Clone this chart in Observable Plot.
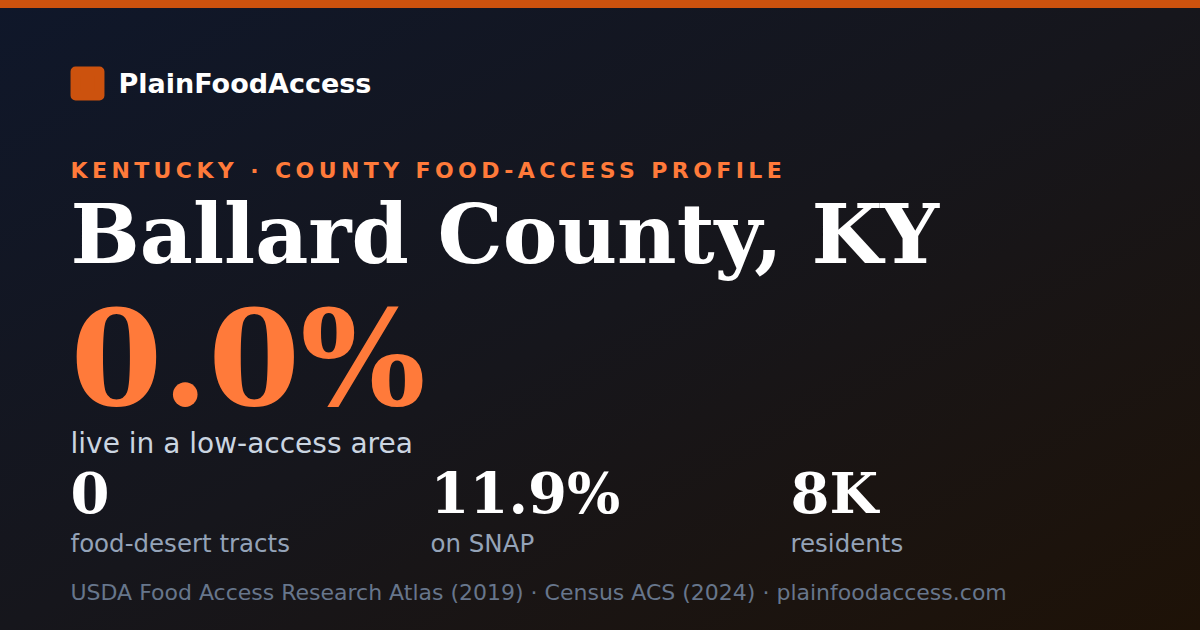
<!DOCTYPE html>
<html>
<head>
<meta charset="utf-8">
<script src="https://cdn.jsdelivr.net/npm/d3@7"></script>
<script src="https://cdn.jsdelivr.net/npm/@observablehq/plot@0.6"></script>
<style>
  body { margin: 0; background: #0f172a; }
</style>
</head>
<body>
<div id="chart"></div>
<script>
// Textos y cifras de la ficha
const brand = ["PlainFoodAccess"];
const kicker = ["KENTUCKY · COUNTY FOOD-ACCESS PROFILE"];
const county = ["Ballard County, KY"];
const headline = ["0.0%"];
const headlineLabel = ["live in a low-access area"];
const statValues = ["0", "11.9%", "8K"];
const statLabels = ["food-desert tracts", "on SNAP", "residents"];
const source = ["USDA Food Access Research Atlas (2019) · Census ACS (2024) · plainfoodaccess.com"];

// una columna por cifra
const stats = statValues.map((v, i) => ({col: i, value: v, label: statLabels[i]}));

const sans = "DejaVu Sans";
const serif = "DejaVu Serif";
const orange = "#ff7a3a";

const chart = Plot.plot({
  width: 1200,
  height: 630,
  marginTop: 0,
  marginBottom: 0,
  marginLeft: 70,
  marginRight: 50,
  x: {domain: [0, 3], axis: null},
  marks: [
    // logo
    Plot.dot({length: 1}, {
      frameAnchor: "top-left", dx: 17, dy: 83,
      symbol: "square", r: 13.5,
      fill: "#cc520e", stroke: "#cc520e", strokeWidth: 10, strokeLinejoin: "round"
    }),
    Plot.text(brand, {
      text: d => d, frameAnchor: "top-left", textAnchor: "start", lineAnchor: "bottom",
      dx: 48, dy: 92, fontFamily: sans, fontWeight: "bold", fontSize: 27, fill: "#ffffff"
    }),
    Plot.text(kicker, {
      ariaDescription: "kicker",
      text: d => d, frameAnchor: "top-left", textAnchor: "start", lineAnchor: "bottom",
      dy: 177, fontFamily: sans, fontWeight: "bold", fontSize: 22, fill: orange
    }),
    Plot.text(county, {
      text: d => d, frameAnchor: "top-left", textAnchor: "start", lineAnchor: "bottom",
      dy: 262, fontFamily: serif, fontWeight: "bold", fontSize: 82, fill: "#ffffff"
    }),
    Plot.text(headline, {
      text: d => d, frameAnchor: "top-left", textAnchor: "start", lineAnchor: "bottom",
      dy: 404, fontFamily: serif, fontWeight: "bold", fontSize: 132, fill: orange
    }),
    Plot.text(headlineLabel, {
      text: d => d, frameAnchor: "top-left", textAnchor: "start", lineAnchor: "bottom",
      dy: 452, fontFamily: sans, fontSize: 28, fill: "#cbd5e1"
    }),
    // separador
    Plot.ruleY({length: 1}, {dy: 476 - 315, insetRight: 20, stroke: "#2b3341", strokeWidth: 2}),
    // cifras
    Plot.text(stats, {
      x: "col", text: "value", frameAnchor: "top", textAnchor: "start", lineAnchor: "bottom",
      dy: 512, fontFamily: serif, fontWeight: "bold", fontSize: 56, fill: "#ffffff"
    }),
    Plot.text(stats, {
      x: "col", text: "label", frameAnchor: "top", textAnchor: "start", lineAnchor: "bottom",
      dy: 551, fontFamily: sans, fontSize: 24.5, fill: "#94a3b8"
    }),
    Plot.text(source, {
      text: d => d, frameAnchor: "top-left", textAnchor: "start", lineAnchor: "bottom",
      dy: 599, fontFamily: sans, fontSize: 22, fill: "#67768c"
    })
  ],
  style: {
    background: "linear-gradient(#cc520e 0 8px, transparent 8px), linear-gradient(to bottom right, #0f172a 0%, #16161c 50%, #1e1207 100%)"
  }
});

// espaciado de letras del antetítulo
d3.select(chart).selectAll('g[aria-description="kicker"] text').style("letter-spacing", "4.4px");

d3.select('#chart').append(() => chart);
</script>
</body>
</html>
